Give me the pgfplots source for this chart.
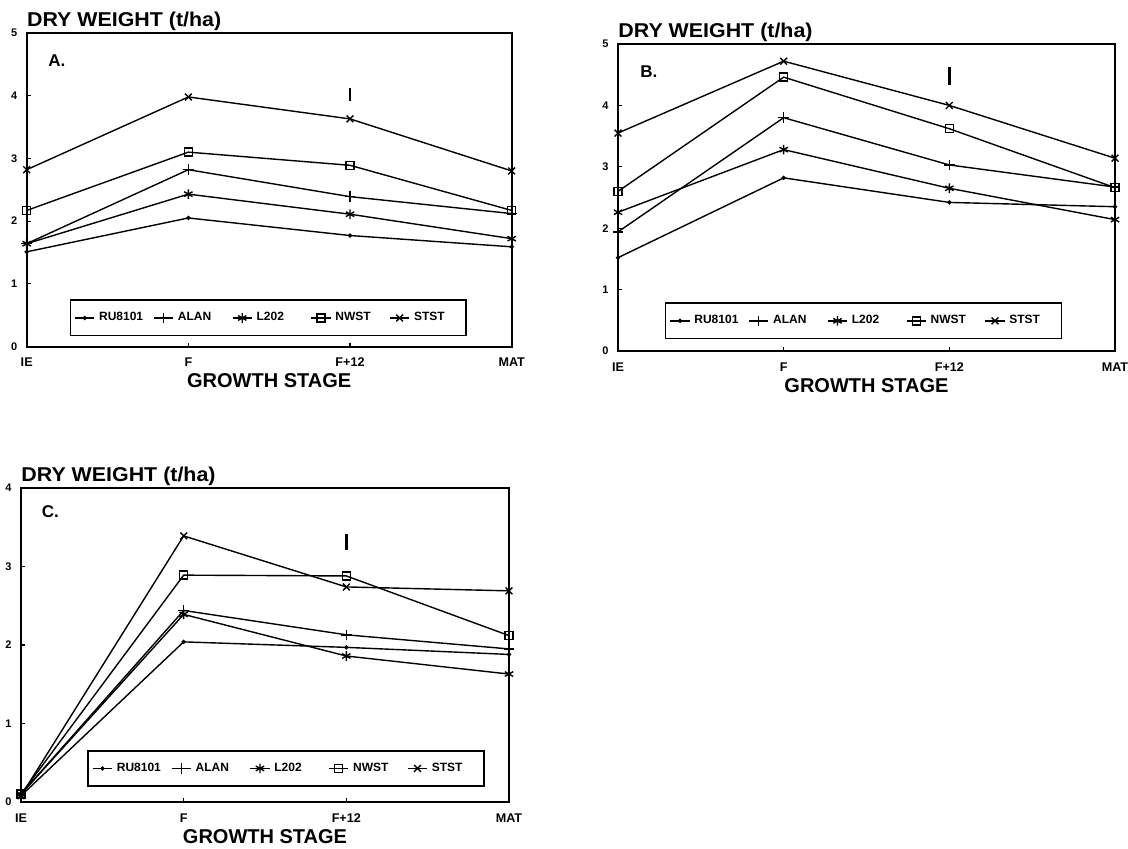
\documentclass[border=0pt]{standalone}
\usepackage{fontspec}
\setmainfont{Liberation Sans}
\usepackage{pgfplots}
\pgfplotsset{compat=1.18}
\pgfplotsset{
  panel/.style={
    scale only axis, clip=false,
    anchor=south west,
    xmin=0, xmax=3, xtick={0,1,2,3}, xticklabels={IE,F,F+12,MAT},
    xtick pos=bottom, ytick pos=left,
    tick align=inside, major tick length=2pt,
    tick style={black, line width=0.6pt},
    axis line style={line width=1pt},
    every axis plot/.append style={line width=0.7pt, black},
    /pgf/number format/assume math mode=true,
    xticklabel style={font=\fontsize{6.3}{7}\selectfont\bfseries, inner sep=0pt, anchor=north, yshift=-5.5pt},
    yticklabel style={font=\fontsize{5.5}{6}\selectfont\bfseries, inner sep=0pt, anchor=east, xshift=-4.5pt},
    xlabel={GROWTH STAGE},
    xlabel style={font=\fontsize{10}{12}\selectfont\bfseries, at={(axis description cs:0.5,0)}, anchor=north, inner sep=0pt, yshift=-13.5pt},
    legend columns=5,
    legend style={draw=black, line width=0.8pt, font=\fontsize{6}{7}\selectfont\bfseries, inner ysep=4pt, inner xsep=2pt,
      /tikz/every even column/.append style={column sep=3pt}},
    legend image code/.code={\draw[mark repeat=2,mark phase=2,line width=0.7pt] plot coordinates {(0cm,0cm) (0.17cm,0cm) (0.34cm,0cm)};},
  },
  sA/.style={mark=*, mark size=0.7pt},
  sB/.style={mark=+, mark size=2.6pt},
  sC/.style={mark=asterisk, mark size=2.4pt},
  sD/.style={mark=square, mark size=2pt},
  sE/.style={mark=x, mark size=2.4pt},
}
\tikzset{
  ttl/.style={anchor=base west, inner sep=0pt, yshift=3.5pt, font=\fontsize{10}{12}\selectfont\bfseries},
  plab/.style={anchor=base west, inner sep=0pt, font=\fontsize{8.5}{10}\selectfont\bfseries},
}
\newcommand{\lent}[1]{\addlegendentry{\makebox[22pt][l]{#1}}}
\newcommand{\ttltext}{\scalebox{1.07}[1]{DRY WEIGHT (t/ha)}}
\begin{document}
\begin{tikzpicture}
\useasboundingbox (0,0) rectangle (564pt,424pt);
% Panel A
\begin{axis}[panel, at={(13.35pt,250.75pt)}, width=242.5pt, height=156.75pt,
  ymin=0, ymax=5, ytick={0,1,2,3,4,5},
  legend style={at={(0.498,0.032)}, anchor=south}]
\addplot[sA] coordinates {(0,1.51) (1,2.05) (2,1.77) (3,1.59)}; \lent{RU8101}
\addplot[sB] coordinates {(0,1.64) (1,2.82) (2,2.39) (3,2.12)}; \lent{ALAN}
\addplot[sC] coordinates {(0,1.64) (1,2.43) (2,2.11) (3,1.72)}; \lent{L202}
\addplot[sD] coordinates {(0,2.17) (1,3.10) (2,2.89) (3,2.17)}; \lent{NWST}
\addplot[sE] coordinates {(0,2.82) (1,3.98) (2,3.63) (3,2.80)}; \lent{STST}
\addplot[line width=1pt, mark=none, forget plot] coordinates {(2,3.91) (2,4.13)};
\node[ttl] at (rel axis cs:0,1) {\ttltext};
\node[plab] at (rel axis cs:0.044,0.892) {A.};
\end{axis}
% Panel B
\begin{axis}[panel, at={(309pt,248.5pt)}, width=248.5pt, height=153.5pt,
  ymin=0, ymax=5, ytick={0,1,2,3,4,5},
  legend style={at={(0.494,0.038)}, anchor=south}]
\addplot[sA] coordinates {(0,1.52) (1,2.82) (2,2.42) (3,2.35)}; \lent{RU8101}
\addplot[sB] coordinates {(0,1.94) (1,3.80) (2,3.03) (3,2.67)}; \lent{ALAN}
\addplot[sC] coordinates {(0,2.26) (1,3.28) (2,2.65) (3,2.14)}; \lent{L202}
\addplot[sD] coordinates {(0,2.60) (1,4.46) (2,3.62) (3,2.66)}; \lent{NWST}
\addplot[sE] coordinates {(0,3.55) (1,4.72) (2,4.00) (3,3.14)}; \lent{STST}
\addplot[line width=1.2pt, mark=none, forget plot] coordinates {(2,4.33) (2,4.62)};
\node[ttl] at (rel axis cs:0,1) {\ttltext};
\node[plab] at (rel axis cs:0.044,0.892) {B.};
\end{axis}
% Panel C
\begin{axis}[panel, at={(10.5pt,23pt)}, width=244pt, height=157pt,
  ymin=0, ymax=4, ytick={0,1,2,3,4},
  legend style={at={(0.543,0.048)}, anchor=south}]
\addplot[sA] coordinates {(0,0.08) (1,2.04) (2,1.97) (3,1.88)}; \lent{RU8101}
\addplot[sB] coordinates {(0,0.10) (1,2.44) (2,2.13) (3,1.95)}; \lent{ALAN}
\addplot[sC] coordinates {(0,0.10) (1,2.39) (2,1.86) (3,1.63)}; \lent{L202}
\addplot[sD] coordinates {(0,0.10) (1,2.89) (2,2.88) (3,2.12)}; \lent{NWST}
\addplot[sE] coordinates {(0,0.08) (1,3.39) (2,2.74) (3,2.69)}; \lent{STST}
\addplot[line width=1.2pt, mark=none, forget plot] coordinates {(2,3.21) (2,3.41)};
\node[ttl] at (rel axis cs:0,1) {\ttltext};
\node[plab] at (rel axis cs:0.042,0.905) {C.};
\end{axis}
\end{tikzpicture}
\end{document}
